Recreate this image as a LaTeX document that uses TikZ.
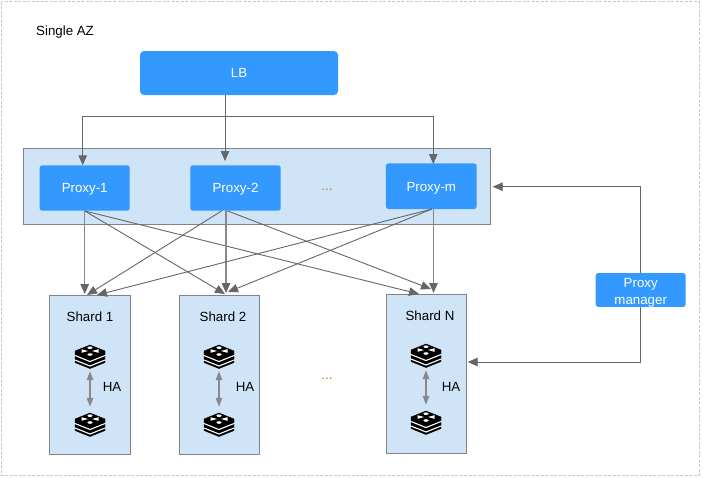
\documentclass[tikz,border=0pt]{standalone}
\usepackage{fontspec}
\setmainfont{Liberation Sans}
\usetikzlibrary{arrows.meta}
\definecolor{nodeblue}{HTML}{3399FF}
\definecolor{panelblue}{HTML}{D0E4F8}
\definecolor{panelline}{HTML}{808488}
\definecolor{wireline}{HTML}{666666}
\definecolor{thickline}{HTML}{888888}
\definecolor{dotsorange}{HTML}{C87000}
\definecolor{frameline}{HTML}{C8C8C8}
\tikzset{
	blockbox/.style={rectangle,rounded corners=2.5pt,fill=nodeblue,text=white,inner sep=0pt,align=center,font=\fontsize{13.3}{17}\selectfont},
	proxybox/.style={blockbox,text height=9.6pt,text depth=0pt},
	panelbox/.style={rectangle,draw=panelline,fill=panelblue,line width=1pt,inner sep=0pt},
	plaintext/.style={inner sep=0pt,text=black,text height=9.6pt,text depth=0pt,font=\fontsize{13.3}{16}\selectfont},
	wire/.style={draw=wireline,line width=0.9pt,-{Triangle[length=10pt,width=8.5pt,color=wireline]}},
	thickwire/.style={wire,draw=thickline,line width=1.4pt},
	hawire/.style={draw=thickline,line width=1.4pt,{Triangle[length=9pt,width=6.5pt,color=thickline]}-{Triangle[length=9pt,width=6.5pt,color=thickline]},shorten >=5pt,shorten <=1pt},
	iconspot/.style={minimum width=30pt,minimum height=26pt,inner sep=0pt},
	redisicon/.pic={
		\fill[black,draw=black,line width=0.4pt,line join=round] (-15,-6) -- (0,-12) -- (15,-6) -- (15,5.5) -- (0,11.5) -- (-15,5.5) -- cycle;
		\draw[white,line width=1.1pt] (-15.6,-1.7) -- (0,4.5) -- (15.6,-1.7);
		\draw[white,line width=1.1pt] (-15.6,2.8) -- (0,9) -- (15.6,2.8);
		\fill[white] (0,-9.3) ellipse (2.6 and 1.3);
		\fill[white] (0,-2.5) ellipse (2.6 and 1.3);
		\fill[white] (-2,-6) -- (-8.5,-7.8) -- (-8.5,-4.2) -- cycle;
		\fill[white] (2,-6) -- (8.5,-7.8) -- (8.5,-4.2) -- cycle;
	},
}
\begin{document}
\begin{tikzpicture}[x=1pt,y=-1pt]
	\useasboundingbox (0,0) rectangle (703,477);
	\draw[dash pattern=on 3pt off 1.5pt,draw=frameline,line width=1pt] (1.5,1.5) rectangle (699,475);
	\node[plaintext,anchor=west] (azlabel) at (36,30.5) {Single AZ};

	% top row
	\node[proxybox,minimum width=198pt,minimum height=44pt,rounded corners=4pt] (lb) at (239,73) {LB};
	\node[panelbox,minimum width=466.5pt,minimum height=75.5pt] (proxypanel) at (256.75,186.25) {};
	\node[proxybox,minimum width=90pt,minimum height=45.4pt] (proxy1) at (84.7,188) {Proxy-1};
	\node[proxybox,minimum width=90.4pt,minimum height=45.4pt] (proxy2) at (235.5,188) {Proxy-2};
	\node[proxybox,minimum width=90.7pt,minimum height=45.6pt] (proxym) at (431.3,186.2) {Proxy-m};
	\node[plaintext,text=dotsorange] (proxydots) at (327,186) {...};

	% shards
	\node[panelbox,minimum width=80.7pt,minimum height=159pt] (shard1) at (89.7,374.8) {};
	\node[panelbox,minimum width=80pt,minimum height=159pt] (shard2) at (219.3,374.8) {};
	\node[panelbox,minimum width=80pt,minimum height=159pt] (shardn) at (426.7,373.8) {};
	\node[plaintext] (shard1label) at (90,317) {Shard 1};
	\node[plaintext] (shard2label) at (223,317) {Shard 2};
	\node[plaintext] (shardnlabel) at (430,316) {Shard N};
	\node[plaintext,text=dotsorange] (sharddots) at (327,375) {...};

	\node[iconspot] (redis1a) at (90,357) {};
	\node[iconspot] (redis1b) at (90,425) {};
	\node[iconspot] (redis2a) at (219,357) {};
	\node[iconspot] (redis2b) at (219,425) {};
	\node[iconspot] (redisna) at (426,356) {};
	\node[iconspot] (redisnb) at (426,423) {};
	\foreach \n in {redis1a,redis1b,redis2a,redis2b,redisna,redisnb}{
		\pic at (\n) {redisicon};
	}
	\node[plaintext] (ha1) at (112,387) {HA};
	\node[plaintext] (ha2) at (245,387) {HA};
	\node[plaintext] (han) at (451,387) {HA};
	\draw[hawire] (redis1a) -- (redis1b);
	\draw[hawire] (redis2a) -- (redis2b);
	\draw[hawire] (redisna) -- (redisnb);

	\node[blockbox,minimum width=90pt,minimum height=33.4pt] (manager) at (640.7,290) {\rule{0pt}{14pt}Proxy\\manager};

	% LB to proxies
	\coordinate (lbout) at (225,95);
	\coordinate (lbbus) at (225,116);
	\coordinate (into1) at (82.7,165.3);
	\coordinate (into2) at (225,161);
	\coordinate (intom) at (433.3,164);
	\draw[wire] (lbout) -- (into2);
	\draw[wire] (lbbus) -| (into1);
	\draw[wire] (lbbus) -| (intom);

	% proxies to shards
	\coordinate (p2left) at (222,210.7);
	\coordinate (p2mid) at (226,210.7);
	\coordinate (p2right) at (227,210.7);
	\coordinate (pmfan) at (432,209);
	\coordinate (pmmid) at (433.5,209);
	\coordinate (s1a) at (84.7,294);
	\coordinate (s1b) at (87,295);
	\coordinate (s1c) at (97,295);
	\coordinate (s2a) at (225,294);
	\coordinate (s2b) at (226,293);
	\coordinate (s2c) at (228,292);
	\coordinate (sna) at (419,294);
	\coordinate (snb) at (431,289);
	\coordinate (snc) at (433.5,293);
	\draw[thickwire] (proxy1.south) -- (s1a);
	\draw[wire] (proxy1.south) -- (s2a);
	\draw[wire] (proxy1.south) -- (sna);
	\draw[wire] (p2left) -- (s1b);
	\draw[thickwire] (p2mid) -- (s2b);
	\draw[wire] (p2right) -- (snb);
	\draw[wire] (pmfan) -- (s1c);
	\draw[wire] (pmfan) -- (s2c);
	\draw[thickwire] (pmmid) -- (snc);

	% manager
	\coordinate (intopanel) at (492.7,186.7);
	\coordinate (intoshard) at (467.7,362);
	\draw[wire] (manager.north) |- (intopanel);
	\draw[wire] (manager.south) |- (intoshard);
\end{tikzpicture}
\end{document}
